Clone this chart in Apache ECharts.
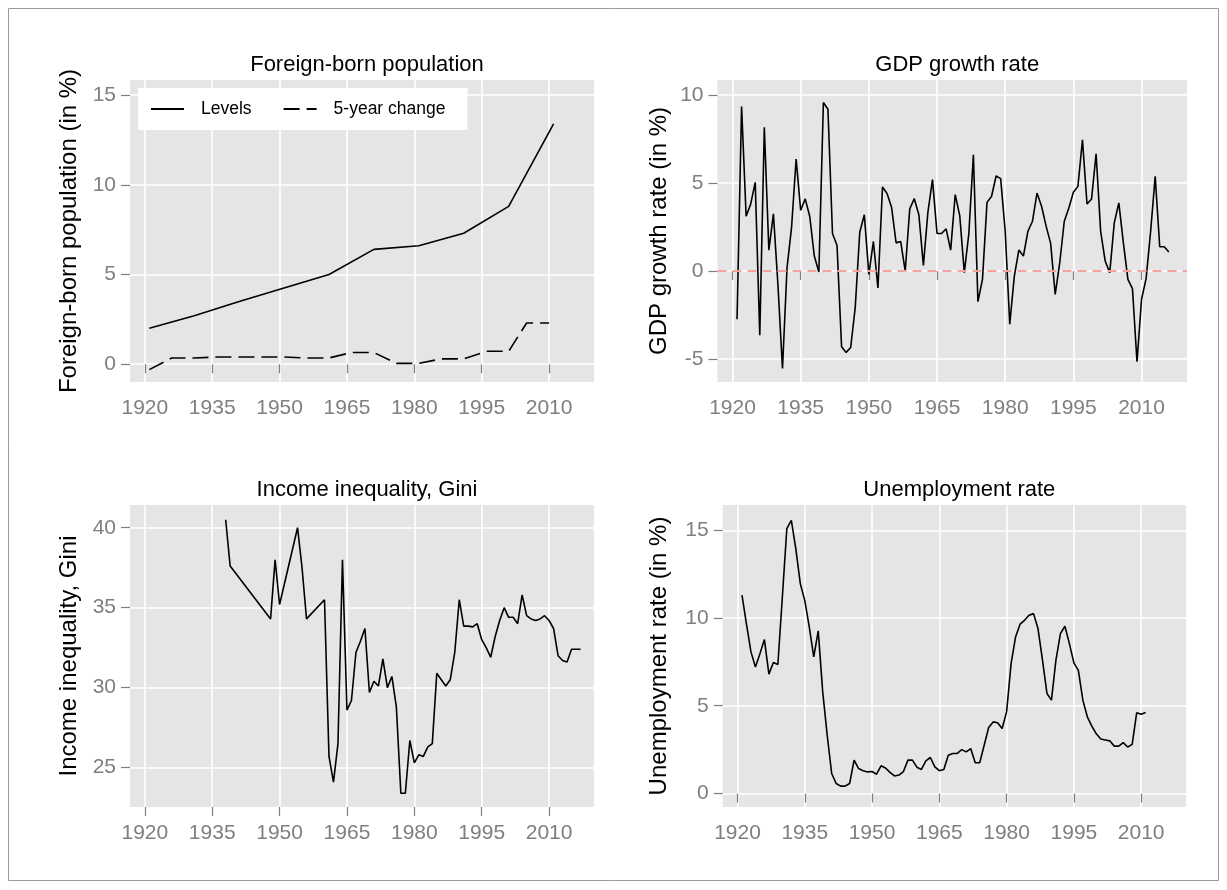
<!DOCTYPE html>
<html><head><meta charset="utf-8">
<script src="https://cdn.jsdelivr.net/npm/echarts@6/dist/echarts.min.js"></script>
<style>html,body{margin:0;padding:0;background:#fff}#c{width:1227px;height:890px}</style>
</head><body><div id="c"></div>
<script>
// ---------- data ----------
const xTickValues = [1920, 1935, 1950, 1965, 1980, 1995, 2010];

const fbLevelYears = [1921, 1931, 1941, 1951, 1961, 1971, 1981, 1991, 2001, 2011];
const fbLevels     = [2.0, 2.7, 3.5, 4.25, 5.0, 6.4, 6.6, 7.3, 8.8, 13.4];
const fbChangeYears = [1921, 1926, 1931, 1936, 1941, 1946, 1951, 1956, 1961, 1966, 1971, 1976, 1981, 1986, 1991, 1996, 2001, 2005, 2010];
const fbChange      = [-0.3, 0.35, 0.35, 0.4, 0.4, 0.4, 0.4, 0.35, 0.35, 0.65, 0.65, 0.05, 0.05, 0.3, 0.3, 0.72, 0.72, 2.3, 2.3];
const fbTicks = [0, 5, 10, 15];

const gdpYears = [1921,1922,1923,1924,1925,1926,1927,1928,1929,1930,
  1931,1932,1933,1934,1935,1936,1937,1938,1939,1940,
  1941,1942,1943,1944,1945,1946,1947,1948,1949,1950,
  1951,1952,1953,1954,1955,1956,1957,1958,1959,1960,
  1961,1962,1963,1964,1965,1966,1967,1968,1969,1970,
  1971,1972,1973,1974,1975,1976,1977,1978,1979,1980,
  1981,1982,1983,1984,1985,1986,1987,1988,1989,1990,
  1991,1992,1993,1994,1995,1996,1997,1998,1999,2000,
  2001,2002,2003,2004,2005,2006,2007,2008,2009,2010,
  2011,2012,2013,2014,2015,2016];
const gdpGrowth = [-2.74, 9.34, 3.11, 3.8, 5.04, -3.64, 8.17, 1.19, 3.25, -0.8,
  -5.53, 0.2, 2.5, 6.36, 3.45, 4.1, 3.1, 0.85, -0.05, 9.57,
  9.19, 2.13, 1.45, -4.3, -4.62, -4.34, -2.08, 2.2, 3.2, -0.19,
  1.68, -0.96, 4.77, 4.4, 3.62, 1.6, 1.68, 0.0, 3.53, 4.11,
  3.2, 0.32, 3.36, 5.19, 2.13, 2.13, 2.4, 1.19, 4.34, 3.15,
  -0.09, 2.13, 6.6, -1.74, -0.47, 3.9, 4.25, 5.4, 5.25, 2.26,
  -3.02, -0.3, 1.19, 0.85, 2.26, 2.83, 4.43, 3.68, 2.55, 1.57,
  -1.32, 0.47, 2.83, 3.58, 4.47, 4.81, 7.45, 3.81, 4.09, 6.66,
  2.26, 0.57, -0.09, 2.74, 3.87, 1.6, -0.47, -1.0, -5.15, -1.6,
  -0.43, 2.26, 5.38, 1.38, 1.38, 1.08];
const gdpTicks = [-5, 0, 5, 10];

const giniYears = [1938, 1939, 1948, 1949, 1950, 1954, 1955, 1956, 1960,
  1961,1962,1963,1964,1965,1966,1967,1968,1969,1970,
  1971,1972,1973,1974,1975,1976,1977,1978,1979,1980,
  1981,1982,1983,1984,1985,1986,1987,1988,1989,1990,
  1991,1992,1993,1994,1995,1996,1997,1998,1999,2000,
  2001,2002,2003,2004,2005,2006,2007,2008,2009,2010,
  2011,2012,2013,2014,2015,2016,2017];
const giniValues = [40.5, 37.6, 34.3, 38.0, 35.2, 40.0, 37.5, 34.3, 35.5,
  25.7, 24.1, 26.5, 38.0, 28.6, 29.2, 32.2, 32.9, 33.7, 29.7,
  30.4, 30.1, 31.8, 30.0, 30.7, 28.8, 23.4, 23.4, 26.7, 25.3,
  25.8, 25.7, 26.3, 26.5, 30.9, 30.5, 30.1, 30.5, 32.2, 35.5,
  33.85, 33.85, 33.8, 34.0, 33.0, 32.5, 31.9, 33.2, 34.2, 35.0,
  34.4, 34.4, 34.0, 35.8, 34.5, 34.3, 34.2, 34.3, 34.5, 34.2,
  33.7, 32.0, 31.7, 31.6, 32.4, 32.4, 32.4];
const giniTicks = [25, 30, 35, 40];

const unempYears = [1921,1922,1923,1924,1925,1926,1927,1928,1929,1930,
  1931,1932,1933,1934,1935,1936,1937,1938,1939,1940,
  1941,1942,1943,1944,1945,1946,1947,1948,1949,1950,
  1951,1952,1953,1954,1955,1956,1957,1958,1959,1960,
  1961,1962,1963,1964,1965,1966,1967,1968,1969,1970,
  1971,1972,1973,1974,1975,1976,1977,1978,1979,1980,
  1981,1982,1983,1984,1985,1986,1987,1988,1989,1990,
  1991,1992,1993,1994,1995,1996,1997,1998,1999,2000,
  2001,2002,2003,2004,2005,2006,2007,2008,2009,2010,2011];
const unempRate = [11.3, 9.65, 8.07, 7.21, 7.97, 8.77, 6.8, 7.46, 7.35, 11.2,
  15.1, 15.57, 13.95, 11.96, 11.0, 9.5, 7.78, 9.27, 5.79, 3.32,
  1.14, 0.57, 0.42, 0.42, 0.57, 1.9, 1.42, 1.3, 1.23, 1.25,
  1.1, 1.58, 1.45, 1.2, 1.0, 1.05, 1.25, 1.9, 1.9, 1.5,
  1.37, 1.86, 2.05, 1.52, 1.3, 1.37, 2.18, 2.28, 2.28, 2.5,
  2.37, 2.56, 1.75, 1.75, 2.75, 3.76, 4.08, 4.03, 3.7, 4.65,
  7.4, 8.92, 9.65, 9.87, 10.16, 10.25, 9.4, 7.6, 5.7, 5.32,
  7.6, 9.11, 9.53, 8.54, 7.44, 7.02, 5.32, 4.37, 3.84, 3.4,
  3.1, 3.05, 3.0, 2.7, 2.7, 2.9, 2.65, 2.8, 4.6, 4.52, 4.62];
const unempTicks = [0, 5, 10, 15];

// ---------- build ----------
const FONT = 'Liberation Sans';
const GREY = '#7f7f7f';
const pairs = (xs, ys) => xs.map((x, i) => [x, ys[i]]);
const plain = v => String(v);

const panels = [
  {left:130,   top:80,  width:464,   height:302, ymin:-0.99, ymax:15.84, ticks:fbTicks,    title:'Foreign-born population',   name:'Foreign-born population (in %)', gap:49},
  {left:717.5, top:80,  width:469.5, height:302, ymin:-6.3,  ymax:10.85, ticks:gdpTicks,   title:'GDP growth rate',           name:'GDP growth rate (in %)',        gap:46},
  {left:130,   top:505, width:464,   height:302, ymin:22.54, ymax:41.42, ticks:giniTicks,  title:'Income inequality, Gini',   name:'Income inequality, Gini',       gap:49},
  {left:722.7, top:505, width:463.3, height:302, ymin:-0.77, ymax:16.44, ticks:unempTicks, title:'Unemployment rate',         name:'Unemployment rate (in %)',      gap:51}
];
const XMIN = 1916.7, XMAX = 2020.0;

const grids = panels.map(p => ({left:p.left, top:p.top, width:p.width, height:p.height, show:true,
  backgroundColor:'#e5e5e5', borderWidth:0, containLabel:false}));

const xAxes = panels.map((p, i) => ({
  type:'value', gridIndex:i, min:XMIN, max:XMAX,
  axisLine:{show:false},
  axisTick:{show:true, length:9, customValues:xTickValues, lineStyle:{color:GREY, width:1.2}},
  axisLabel:{customValues:xTickValues, formatter:plain, color:GREY, fontSize:21, fontFamily:FONT, margin:16},
  splitLine:{show:true, lineStyle:{color:'#ffffff', width:1.6}}
}));
const yAxes = panels.map((p, i) => ({
  type:'value', gridIndex:i, min:p.ymin, max:p.ymax,
  name:p.name, nameLocation:'middle', nameGap:p.gap,
  nameTextStyle:{color:'#000', fontSize:24, fontFamily:FONT},
  axisLine:{show:false},
  axisTick:{show:true, length:9, customValues:p.ticks, lineStyle:{color:GREY, width:1.2}},
  axisLabel:{customValues:p.ticks, formatter:plain, color:GREY, fontSize:21, fontFamily:FONT, margin:14},
  splitLine:{show:true, lineStyle:{color:'#ffffff', width:1.6}}
}));

const titles = panels.map(p => ({
  text:p.title, left:p.left + p.width/2, top:p.top - 31, textAlign:'center',
  textStyle:{color:'#000', fontSize:22, fontWeight:'normal', fontFamily:FONT}
}));

const lineBase = {type:'line', symbol:'none', showSymbol:false, silent:true, animation:false};
const series = [
  Object.assign({}, lineBase, {name:'Levels', xAxisIndex:0, yAxisIndex:0, data:pairs(fbLevelYears, fbLevels),
    lineStyle:{color:'#000', width:1.6}, itemStyle:{color:'#000'}}),
  Object.assign({}, lineBase, {name:'5-year change', xAxisIndex:0, yAxisIndex:0, data:pairs(fbChangeYears, fbChange),
    lineStyle:{color:'#000', width:1.6, type:[16, 7]}, itemStyle:{color:'#000'}}),
  Object.assign({}, lineBase, {name:'GDP', xAxisIndex:1, yAxisIndex:1, data:pairs(gdpYears, gdpGrowth),
    lineStyle:{color:'#000', width:1.6}, itemStyle:{color:'#000'},
    markLine:{silent:true, symbol:'none', animation:false, label:{show:false},
      lineStyle:{color:'#f4a29c', width:2, type:[9, 6]}, data:[{yAxis:0}]}}),
  Object.assign({}, lineBase, {name:'Gini', xAxisIndex:2, yAxisIndex:2, data:pairs(giniYears, giniValues),
    lineStyle:{color:'#000', width:1.6}, itemStyle:{color:'#000'}}),
  Object.assign({}, lineBase, {name:'Unemployment', xAxisIndex:3, yAxisIndex:3, data:pairs(unempYears, unempRate),
    lineStyle:{color:'#000', width:1.6}, itemStyle:{color:'#000'}})
];

const chart = echarts.init(document.getElementById('c'), null, {renderer:'canvas'});
chart.setOption({
  backgroundColor:'#ffffff',
  animation:false,
  textStyle:{fontFamily:FONT},
  title:titles,
  legend:{data:['Levels', '5-year change'], left:138, top:88, orient:'horizontal',
    backgroundColor:'#ffffff', padding:[12, 22, 12, 12], itemWidth:33, itemHeight:14, itemGap:31,
    itemStyle:{opacity:0, color:'rgba(0,0,0,0)', borderWidth:0},
    textStyle:{color:'#000', fontSize:17.5, fontFamily:FONT, padding:[0, 0, 0, 12]}, selectedMode:false},
  grid:grids, xAxis:xAxes, yAxis:yAxes, series:series,
  graphic:[{type:'rect', silent:true, shape:{x:8.5, y:8.5, width:1210, height:872},
    style:{fill:'none', stroke:'#9a9a9a', lineWidth:1}}]
});
</script></body></html>
